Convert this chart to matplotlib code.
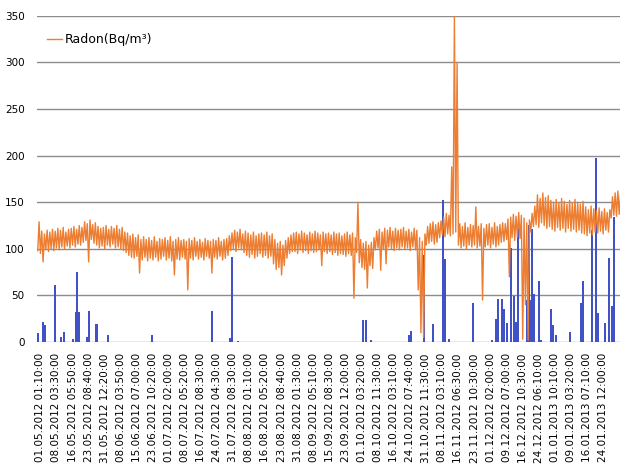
import numpy as np
import matplotlib
matplotlib.use("Agg")
import matplotlib.pyplot as plt

# tick labels (one every 6 samples, first at sample 1)
tick_labels = [
    "01.05.2012 01:10:00", "08.05.2012 03:30:00", "16.05.2012 05:50:00", "23.05.2012 08:40:00",
    "31.05.2012 12:20:00", "08.06.2012 03:50:00", "15.06.2012 07:00:00", "23.06.2012 10:20:00",
    "01.07.2012 02:00:00", "08.07.2012 05:20:00", "16.07.2012 08:30:00", "24.07.2012 04:30:00",
    "31.07.2012 08:30:00", "08.08.2012 01:10:00", "16.08.2012 05:20:00", "23.08.2012 08:40:00",
    "31.08.2012 01:30:00", "08.09.2012 05:10:00", "15.09.2012 08:30:00", "23.09.2012 12:00:00",
    "01.10.2012 03:20:00", "08.10.2012 11:30:00", "16.10.2012 03:10:00", "24.10.2012 07:40:00",
    "31.10.2012 11:30:00", "08.11.2012 03:10:00", "16.11.2012 06:30:00", "23.11.2012 10:30:00",
    "01.12.2012 02:00:00", "09.12.2012 07:00:00", "16.12.2012 10:30:00", "24.12.2012 06:10:00",
    "01.01.2013 10:10:00", "09.01.2013 03:20:00", "16.01.2013 07:10:00", "24.01.2013 12:00:00",
]

# radon (Bq/m3): high and low reading within each sample interval
radon_hi = [
    129, 119, 116, 120, 118, 121,
    119, 122, 120, 123, 118, 121,
    122, 124, 121, 125, 123, 129,
    127, 131, 126, 128, 124, 122,
    123, 125, 121, 124, 122, 125,
    121, 123, 118, 117, 114, 116,
    112, 115, 110, 113, 110, 112,
    109, 113, 108, 111, 110, 112,
    109, 113, 108, 110, 112, 109,
    110, 108, 111, 109, 112, 108,
    110, 107, 111, 109, 108, 110,
    109, 112, 108, 110, 111, 114,
    117, 120, 118, 121, 116, 119,
    117, 115, 118, 114, 116, 117,
    115, 118, 114, 116, 110, 106,
    108, 104, 109, 112, 115, 117,
    118, 116, 119, 117, 115, 118,
    116, 119, 117, 115, 118, 116,
    117, 115, 118, 116, 117, 114,
    116, 118, 115, 117, 112, 150,
    110, 106, 108, 104, 107, 112,
    119, 121, 118, 122, 120, 123,
    119, 122, 120, 121, 123, 119,
    121, 118, 122, 120, 112, 108,
    116, 124, 127, 129, 126, 128,
    130, 134, 138, 136, 188, 350,
    300, 127, 124, 128, 123, 126,
    125, 145, 124, 127, 122, 126,
    127, 123, 128, 124, 126, 128,
    127, 132, 134, 137, 135, 139,
    136, 133, 128, 131, 138, 146,
    158, 154, 160, 155, 157, 152,
    150, 153, 149, 154, 151, 148,
    152, 149, 153, 150, 148, 151,
    145, 142, 146, 143, 141, 144,
    140, 143, 139, 142, 156, 160,
    162, 158,
]
radon_lo = [
    98, 95, 86, 99, 97, 100,
    98, 101, 99, 102, 100, 103,
    101, 104, 102, 105, 104, 107,
    109, 86, 110, 106, 104, 101,
    103, 100, 104, 102, 105, 101,
    102, 100, 98, 96, 93, 91,
    90, 92, 74, 88, 91, 87,
    90, 88, 91, 87, 89, 92,
    88, 90, 87, 72, 89, 88,
    91, 89, 56, 90, 88, 92,
    89, 91, 88, 92, 90, 74,
    91, 89, 92, 88, 90, 93,
    98, 100, 97, 101, 99, 96,
    93, 91, 94, 90, 92, 95,
    91, 93, 90, 92, 84, 78,
    80, 72, 82, 90, 95, 97,
    97, 95, 99, 96, 98, 95,
    98, 96, 97, 99, 82, 97,
    95, 97, 94, 96, 93, 95,
    94, 92, 95, 93, 47, 96,
    85, 80, 78, 58, 82, 79,
    99, 101, 77, 100, 84, 102,
    100, 98, 101, 99, 102, 100,
    101, 98, 102, 99, 56, 10,
    5, 104, 106, 108, 105, 107,
    112, 115, 113, 116, 114, 116,
    118, 104, 101, 103, 100, 104,
    102, 104, 101, 103, 45, 102,
    104, 101, 105, 102, 104, 107,
    108, 110, 70, 112, 109, 113,
    111, 3, 40, 2, 118, 124,
    126, 123, 128, 125, 122, 124,
    121, 119, 123, 120, 122, 118,
    122, 119, 121, 118, 120, 117,
    116, 114, 117, 115, 118, 117,
    119, 116, 120, 118, 133, 136,
    135, 137,
]

# precipitation bars: sample position and height
rain_pos = [
    0.26, 2.13, 2.69, 6.61, 8.85, 9.97, 13.1, 14.3, 14.83, 15.4, 18.57, 19.1, 21.93, 26.4,
    42.47, 64.89, 71.6, 72.36, 74.6, 121.5, 122.4, 124.3, 138.5, 139.2, 144.1, 147.5,
    151.2, 151.9, 153.4, 162.4, 169.5, 170.97, 171.7, 173.2, 173.9, 175.1, 176.6, 177.7,
    178.4, 179.2, 182.5, 182.9, 183.3, 183.7, 184.4, 185.2, 187.0, 187.8, 191.5, 192.3,
    193.4, 198.6, 202.7, 203.5, 206.8, 208.3, 209.1, 211.7, 213.2, 214.3, 215.1,
]
rain = [
    10, 21, 18, 61, 5, 11, 3, 32, 75, 32, 5, 33, 19, 8,
    8, 33, 4, 91, 1, 24, 24, 2, 8, 12, 93, 19,
    152, 89, 3, 42, 2, 25, 46, 46, 35, 20, 101, 49,
    21, 122, 45, 45, 126, 45, 121, 52, 65, 2, 35, 18,
    8, 11, 42, 65, 120, 198, 31, 20, 90, 39, 134,
]

# interleave low/high readings into one trace
n = len(radon_hi)
x = np.empty(2 * n)
y = np.empty(2 * n)
x[0::2] = np.arange(n)
x[1::2] = np.arange(n) + 0.5
y[0::2] = radon_lo
y[1::2] = radon_hi

fig = plt.figure(figsize=(6.2, 4.66), dpi=100)
ax = fig.add_axes([0.06, 0.266, 0.94, 0.7])

ax.bar(rain_pos, rain, width=0.75, color="#4152c6", zorder=2)
ax.plot(x, y, color="#ed7d31", lw=1.0, zorder=3, label="Radon(Bq/m³)")

ax.set_ylim(0, 350)
ax.set_xlim(-0.2, 217.3)
ax.set_yticks(range(0, 351, 50))
ax.set_xticks([1 + 6 * k for k in range(len(tick_labels))])
ax.set_xticklabels(tick_labels, rotation=90, fontsize=7.5)
ax.tick_params(axis="y", labelsize=7.5, length=0, pad=9)
ax.tick_params(axis="x", length=0, pad=8)
ax.yaxis.grid(True, color="#8c8c8c", lw=1.0, zorder=0)
ax.set_axisbelow(True)
for s in ax.spines.values():
    s.set_visible(False)

ax.legend(loc="center left", bbox_to_anchor=(0.009, 0.926), frameon=False,
          fontsize=9, handlelength=1.2, handletextpad=0.2, borderaxespad=0)

fig.savefig("out.png", dpi=100)
